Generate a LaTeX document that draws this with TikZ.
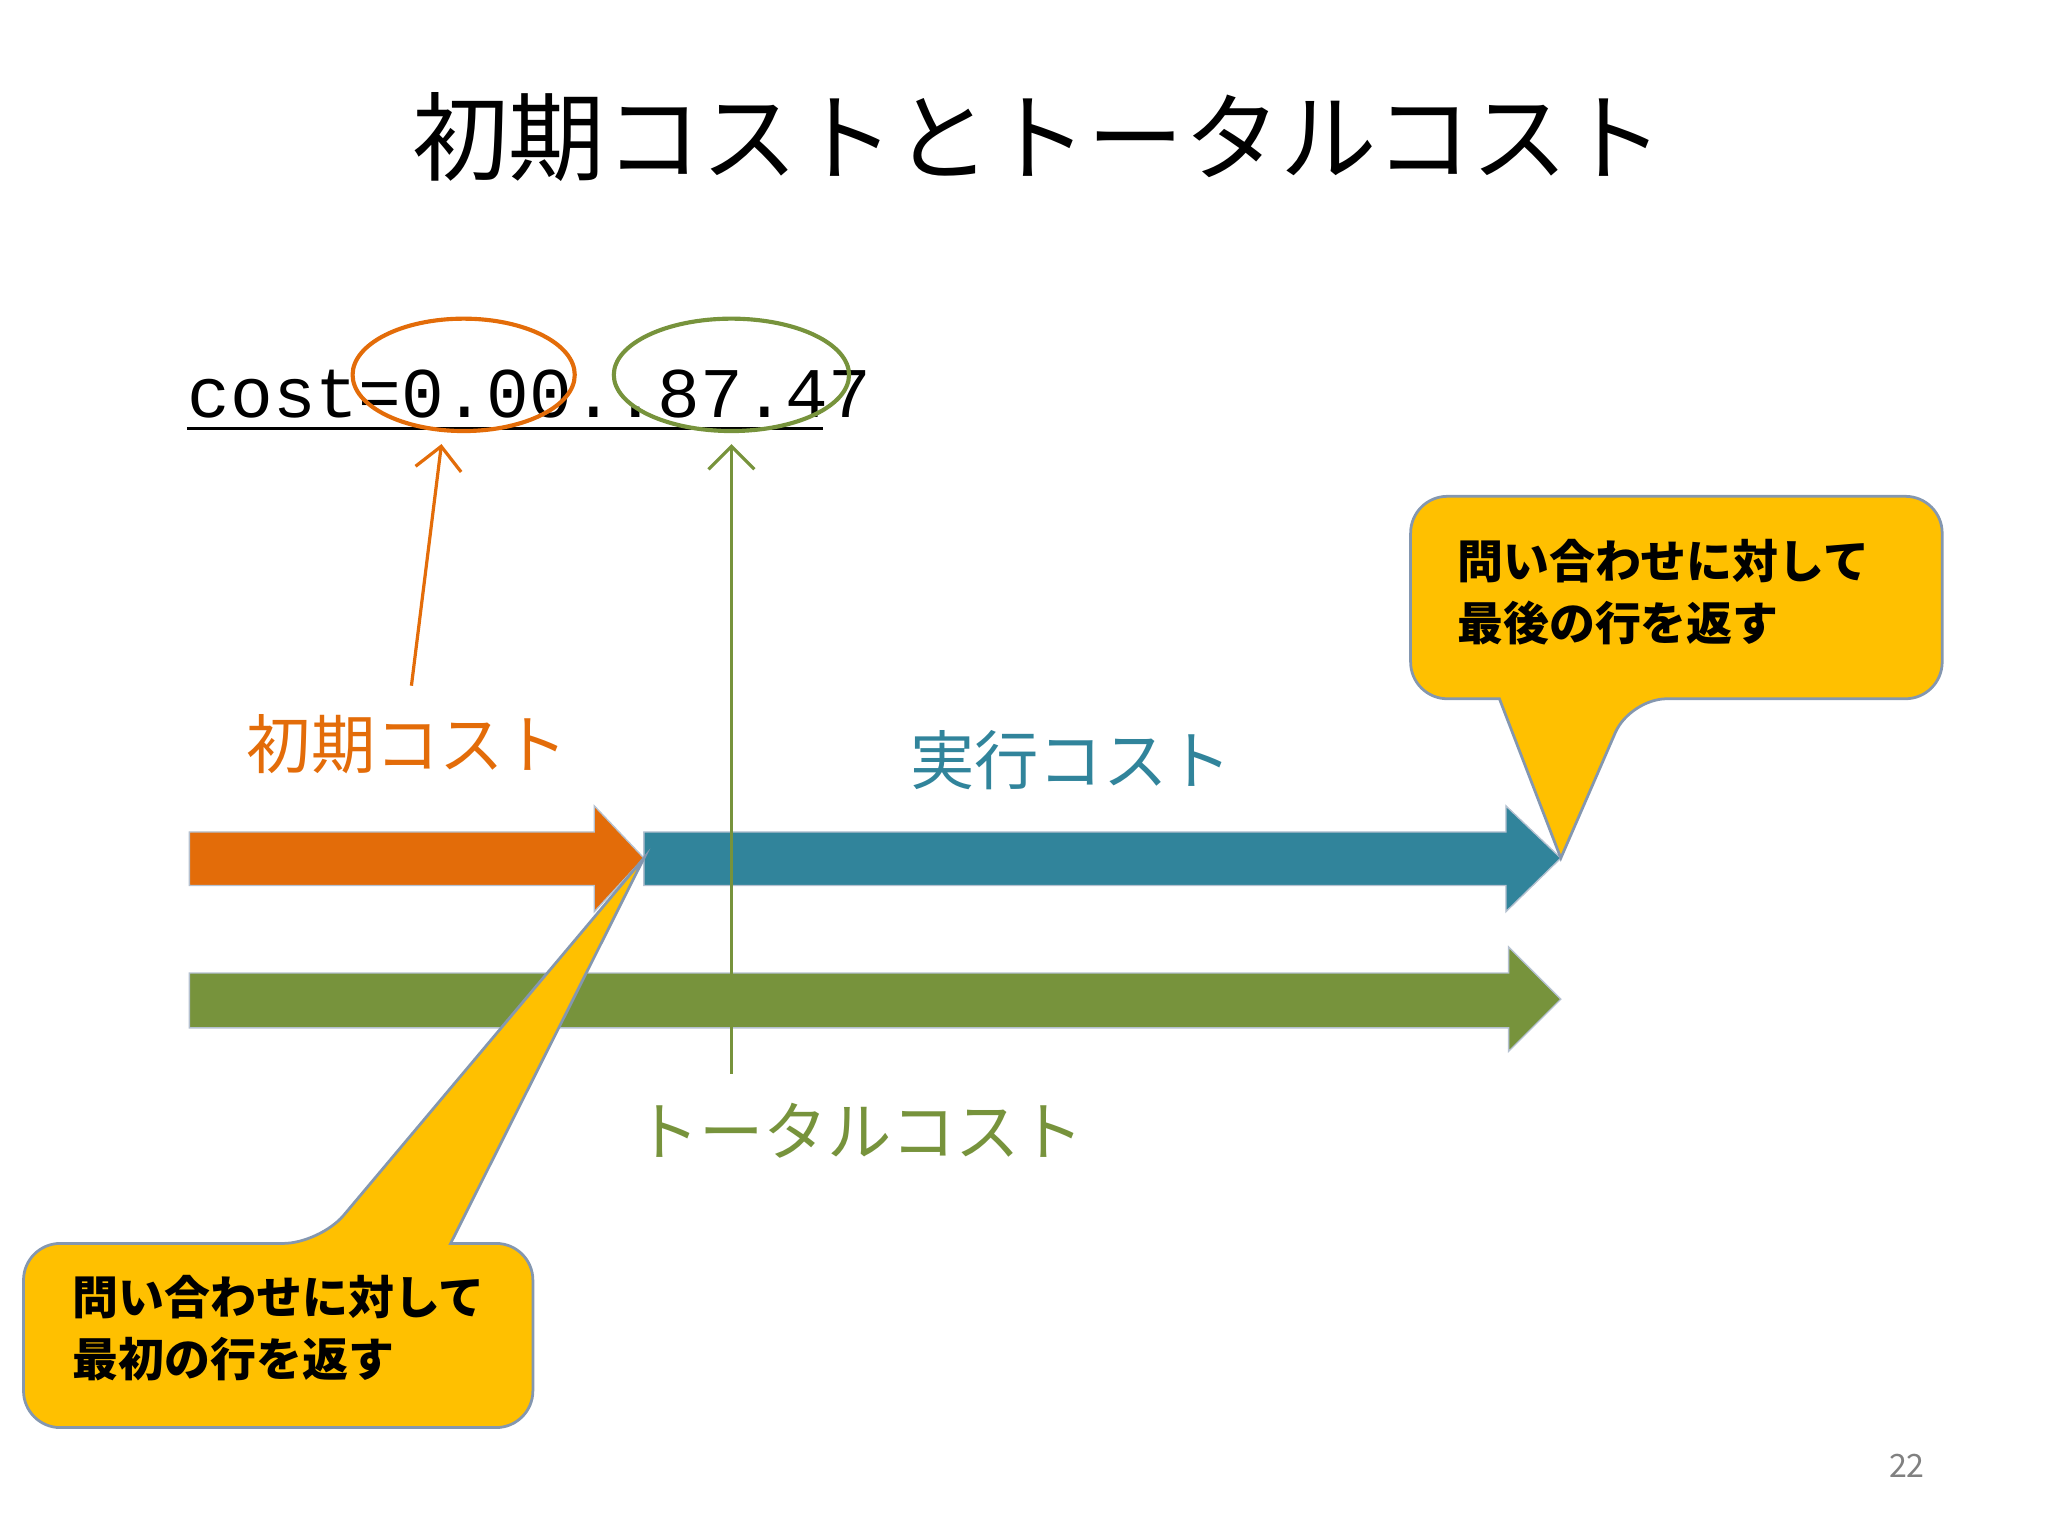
\documentclass[tikz,border=0pt]{standalone}
\usepackage{fontspec}
\setmainfont{Noto Sans CJK JP}
\newfontfamily\monofont{Liberation Mono}
\usetikzlibrary{arrows.meta,positioning,calc,shapes.geometric}
\definecolor{costorange}{HTML}{E36C09}
\definecolor{costblue}{HTML}{31849B}
\definecolor{costgreen}{HTML}{77933C}
\definecolor{calloutyellow}{HTML}{FFC000}
\definecolor{calloutedge}{HTML}{8497B0}

\begin{document}
\begin{tikzpicture}[x=0.01cm, y=-0.01cm,
    label/.style={font=\fontsize{14}{16}\selectfont, inner sep=0pt},
    callout/.style={fill=calloutyellow, draw=calloutedge, line width=0.6pt, rounded corners=8pt},
    callouttext/.style={font=\fontsize{10}{13.5}\selectfont\bfseries, align=left, anchor=north west, inner sep=0pt},
    blockarrow/.style={draw=calloutedge!60, line width=0.3pt},
    pointer/.style={-{Straight Barb[length=5pt]}, line width=0.7pt}
]
\useasboundingbox (0,0) rectangle (1568,1176);

% Title
\node[font=\fontsize{21}{24}\selectfont] (title) at (795,105) {初期コストとトータルコスト};

% cost line
\node[font=\monofont\fontsize{15.5}{18}\selectfont, anchor=base west, inner sep=0pt] (cost) at (143,320) {cost=0.00..87.47};
\draw[line width=0.8pt] (143,328) -- (630,328);
\node[draw=costorange, ellipse, line width=0.9pt, minimum width=1.7cm, minimum height=0.86cm] (startring) at (355,287) {};
\node[draw=costgreen, ellipse, line width=0.9pt, minimum width=1.8cm, minimum height=0.86cm] (totalring) at (560,287) {};

% Block arrows
\draw[blockarrow, fill=costorange] (145,637) -- (455,637) -- (455,617) -- (493,657) coordinate (starttip) -- (455,698) -- (455,678) -- (145,678) -- cycle;
\draw[blockarrow, fill=costblue] (493,637) -- (1153,637) -- (1153,617) -- (1195,657) coordinate (runtip) -- (1153,698) -- (1153,678) -- (493,678) -- cycle;
\draw[blockarrow, fill=costgreen] (145,745) -- (1155,745) -- (1155,725) -- (1195,765) -- (1155,805) -- (1155,787) -- (145,787) -- cycle;

% Labels
\node[label, text=costorange] (startlabel) at (312,570) {初期コスト};
\node[label, text=costblue] (runlabel) at (820,582) {実行コスト};
\node[label, text=costgreen] (totallabel) at (658,866) {トータルコスト};

% Pointers
\coordinate (startfoot) at (315,525);
\coordinate (totalfoot) at (560,822);
\draw[pointer, costorange] (startfoot) -- (338,340);
\draw[pointer, costgreen] (totalfoot) -- (560,340);

% Callouts
\draw[callout] (1080,380) -- (1487,380) -- (1487,535) -- (1248,535)
  [sharp corners] -- (runtip) -- (1148,535) [rounded corners=8pt] -- (1080,535) -- cycle;
\node[callouttext] (lastrow) at (1115,412) {問い合わせに対して\\最後の行を返す};

\draw[callout] (18,952) -- (245,952) [sharp corners] -- (starttip) -- (345,952)
  [rounded corners=8pt] -- (408,952) -- (408,1093) -- (18,1093) -- cycle;
\node[callouttext] (firstrow) at (55,976) {問い合わせに対して\\最初の行を返す};

% Page number
\node[font=\fontsize{7}{8}\selectfont, text=gray] (page) at (1460,1122) {22};
\end{tikzpicture}
\end{document}
